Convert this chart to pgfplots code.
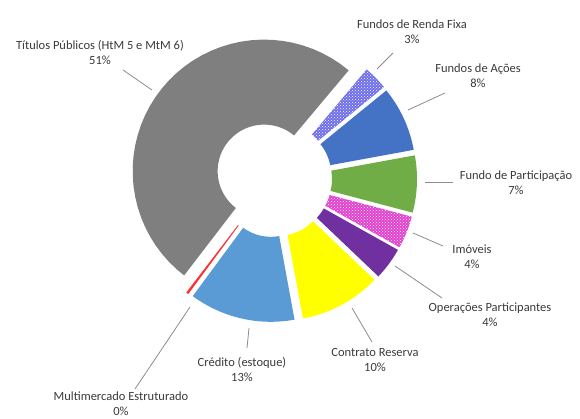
\documentclass[border=0pt]{standalone}
\usepackage{pgfplots}
\pgfplotsset{compat=1.18}
\usepackage{fontspec}
\setmainfont{Carlito}
\usetikzlibrary{patterns}
\definecolor{cgray}{HTML}{7F7F7F}
\definecolor{crf}{HTML}{6E6EEA}
\definecolor{cacoes}{HTML}{4472C4}
\definecolor{cpart}{HTML}{70AD47}
\definecolor{cimov}{HTML}{E23FCF}
\definecolor{coper}{HTML}{7030A0}
\definecolor{ccontr}{HTML}{FFFF00}
\definecolor{ccred}{HTML}{5B9BD5}
\definecolor{cmulti}{HTML}{FF3030}
\definecolor{ctext}{HTML}{3A3A3A}
\definecolor{cline}{HTML}{8C8C8C}
\tikzset{
  srf/.style={fill=crf, postaction={pattern=crosshatch dots, pattern color=white}},
  sacoes/.style={fill=cacoes},
  spart/.style={fill=cpart},
  simov/.style={fill=cimov, postaction={pattern=crosshatch dots, pattern color=white}},
  soper/.style={fill=coper},
  scontr/.style={fill=ccontr},
  scred/.style={fill=ccred},
  smulti/.style={fill=cmulti},
  stit/.style={fill=cgray},
  lbl/.style={font=\fontsize{12.5}{15}\selectfont, text=ctext, align=center, inner sep=0pt},
}
\def\cx{273.5}
\def\cy{178.6}
\def\Ro{131.5}
\def\Ri{46.5}
\def\ex{12}
\def\startang{50}
\gdef\cum{0}
\newcommand\slice[2]{%
  \pgfmathsetmacro\thA{\startang - 3.6*\cum}%
  \pgfmathsetmacro\thB{\startang - 3.6*(\cum+#1)}%
  \pgfmathsetmacro\thM{(\thA+\thB)/2}%
  \pgfmathsetmacro\ox{\cx + \ex*cos(\thM)}%
  \pgfmathsetmacro\oy{\cy - \ex*sin(\thM)}%
  \pgfmathsetmacro\newcum{\cum+#1}\xdef\cum{\newcum}%
  \edef\doplot{\noexpand\addplot[#2, draw=none, samples at={0,...,40,100,101,...,140}, variable=\noexpand\t]
   ({\ox + ifthenelse(\noexpand\t<50,\Ro,\Ri)*cos(ifthenelse(\noexpand\t<50, \thA+(\thB-\thA)*\noexpand\t/40, \thB+(\thA-\thB)*(\noexpand\t-100)/40))},
    {\oy - ifthenelse(\noexpand\t<50,\Ro,\Ri)*sin(ifthenelse(\noexpand\t<50, \thA+(\thB-\thA)*\noexpand\t/40, \thB+(\thA-\thB)*(\noexpand\t-100)/40))});}%
  \doplot
}
\begin{document}
\begin{tikzpicture}
\begin{axis}[
  scale only axis, width=580pt, height=419pt,
  xmin=0, xmax=580, ymin=0, ymax=419, y dir=reverse,
  hide axis, clip=false,
]
% values (percent), clockwise from the top right
\slice{3}{srf}       % Fundos de Renda Fixa
\slice{8}{sacoes}    % Fundos de Ações
\slice{7}{spart}     % Fundo de Participação
\slice{4}{simov}     % Imóveis
\slice{4}{soper}     % Operações Participantes
\slice{10}{scontr}   % Contrato Reserva
\slice{13}{scred}    % Crédito (estoque)
\slice{0.3}{smulti}  % Multimercado Estruturado
\slice{50.7}{stit}   % Títulos Públicos
% leader lines
\addplot[cline, line width=0.8pt] coordinates {(123,70) (152,90)};
\addplot[cline, line width=0.8pt] coordinates {(393,53) (377,69)};
\addplot[cline, line width=0.8pt] coordinates {(445,93) (408,110)};
\addplot[cline, line width=0.8pt] coordinates {(425,182) (453,182)};
\addplot[cline, line width=0.8pt] coordinates {(413,233) (443,246)};
\addplot[cline, line width=0.8pt] coordinates {(395,266) (442,298)};
\addplot[cline, line width=0.8pt] coordinates {(352,308) (372,342)};
\addplot[cline, line width=0.8pt] coordinates {(249,328) (247,348)};
\addplot[cline, line width=0.8pt] coordinates {(190,307) (135,389)};
% labels
\node[lbl] at (axis cs:100,52) {Títulos Públicos (HtM 5 e MtM 6)\\51\%};
\node[lbl] at (axis cs:412,32) {Fundos de Renda Fixa\\3\%};
\node[lbl] at (axis cs:478,76) {Fundos de Ações\\8\%};
\node[lbl] at (axis cs:516,183) {Fundo de Participação\\7\%};
\node[lbl] at (axis cs:472,257) {Imóveis\\4\%};
\node[lbl] at (axis cs:490,315) {Operações Participantes\\4\%};
\node[lbl] at (axis cs:375,360) {Contrato Reserva\\10\%};
\node[lbl] at (axis cs:242,369) {Crédito (estoque)\\13\%};
\node[lbl] at (axis cs:121,404) {Multimercado Estruturado\\0\%};
\coordinate (SW) at (rel axis cs:0,0);
\coordinate (NE) at (rel axis cs:1,1);
\end{axis}
\pgfresetboundingbox
\path (SW) rectangle (NE);
\end{tikzpicture}
\end{document}
